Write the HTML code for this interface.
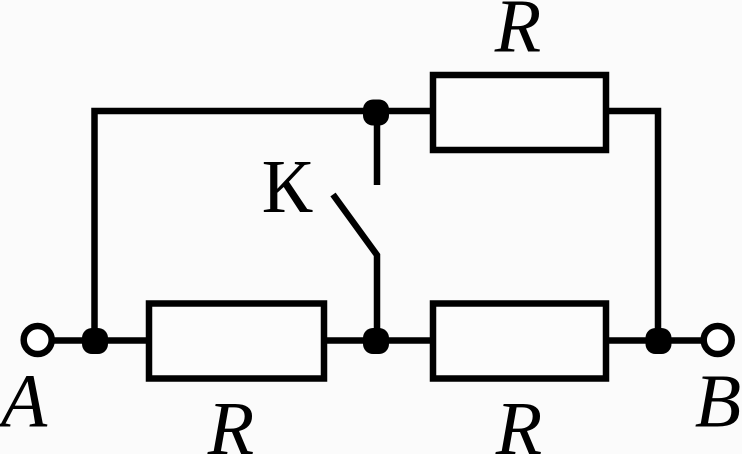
<!DOCTYPE html>
<html>
<head>
<meta charset="utf-8">
<style>
html,body{margin:0;padding:0;background:#fbfbfb;width:742px;height:454px;overflow:hidden}
svg{display:block;position:absolute;left:0;top:0}
text{font-family:"Liberation Serif",serif;fill:#000}
</style>
</head>
<body>
<svg width="742" height="454" viewBox="0 0 742 454">
<rect width="742" height="454" fill="#fbfbfb"/>
<g fill="none" stroke="#000" stroke-width="6.500">
<path d="M52 340.500H149"/>
<path d="M94.500 340V111H433"/>
<rect x="149" y="303.500" width="175" height="75" fill="#fcfcfc"/>
<path d="M324 340.500H433"/>
<rect x="433" y="303.500" width="173" height="75" fill="#fcfcfc"/>
<path d="M606 340.500H704"/>
<rect x="433" y="75" width="173" height="75" fill="#fcfcfc"/>
<path d="M606 111H658V340"/>
<path d="M377 111V185"/>
<path d="M377 340V255L333 194.500"/>
<circle cx="37.700" cy="340" r="14" fill="#fff"/>
<circle cx="717.700" cy="340" r="14" fill="#fff"/>
</g>
<g fill="#000">
<rect x="82" y="328" width="26" height="26" rx="10"/>
<rect x="363" y="328" width="26" height="26" rx="10"/>
<rect x="645.500" y="328" width="26" height="26" rx="10"/>
<rect x="363" y="99.500" width="26" height="26" rx="10"/>
</g>
<text x="518" y="51.500" font-size="76" font-style="italic" text-anchor="middle">R</text>
<text x="287" y="212" font-size="76" text-anchor="middle">К</text>
<text x="24" y="426.500" font-size="76" font-style="italic" text-anchor="middle">A</text>
<text x="231" y="454" font-size="76" font-style="italic" text-anchor="middle">R</text>
<text x="519" y="454" font-size="76" font-style="italic" text-anchor="middle">R</text>
<text x="718" y="426.500" font-size="76" font-style="italic" text-anchor="middle">B</text>
</svg>
</body>
</html>
